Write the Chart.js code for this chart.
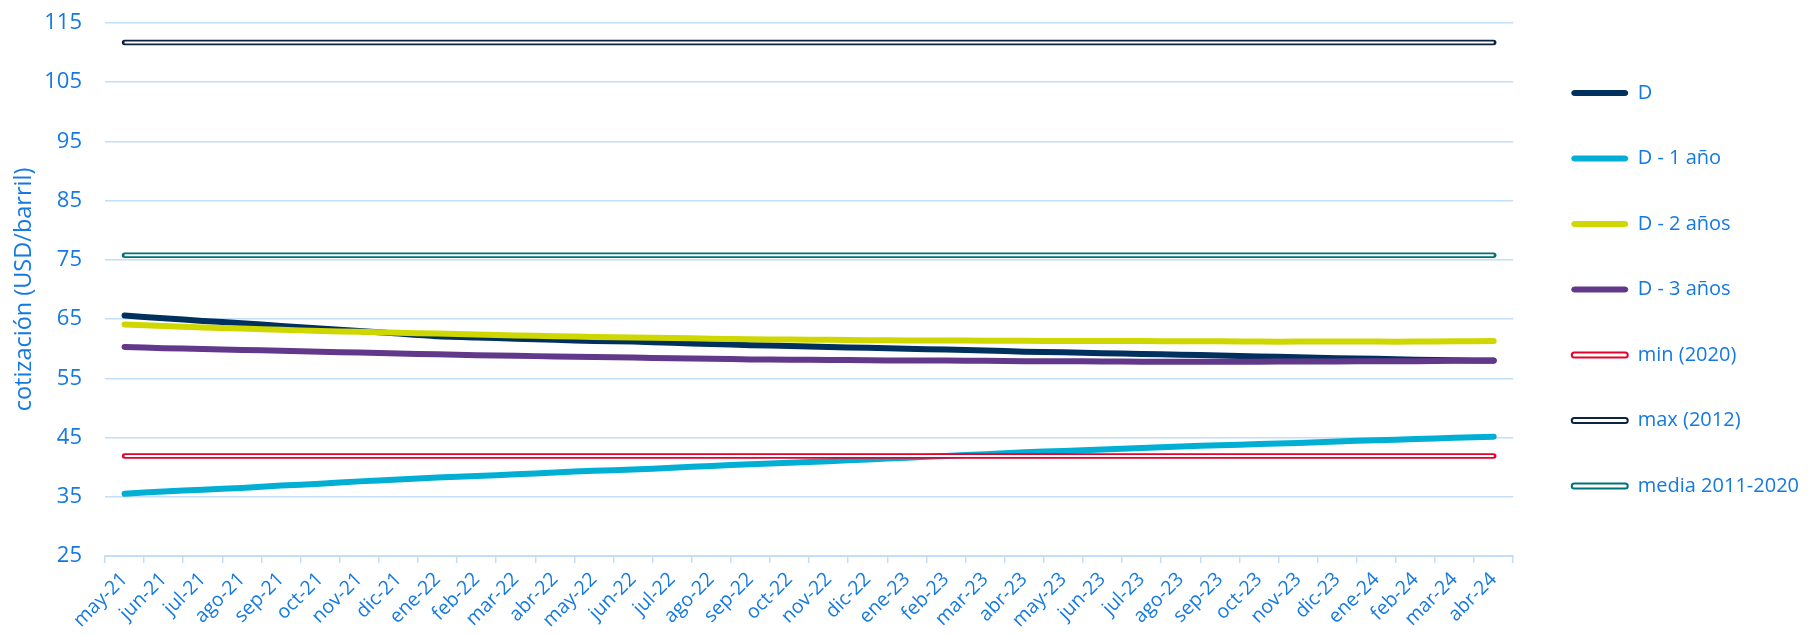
<!DOCTYPE html>
<html lang="es">
<head>
<meta charset="utf-8">
<title>Cotización del barril</title>
<script src="https://cdn.jsdelivr.net/npm/chart.js@4.4.1/dist/chart.umd.min.js"></script>
<style>
  html, body { margin: 0; padding: 0; background: #fff; }
  #contenedor { position: relative; width: 1809px; height: 636px; }
</style>
</head>
<body>
<div id="contenedor"><canvas id="grafico"></canvas></div>
<script>
// Datos
const meses = ['may-21','jun-21','jul-21','ago-21','sep-21','oct-21','nov-21','dic-21',
  'ene-22','feb-22','mar-22','abr-22','may-22','jun-22','jul-22','ago-22','sep-22','oct-22','nov-22','dic-22',
  'ene-23','feb-23','mar-23','abr-23','may-23','jun-23','jul-23','ago-23','sep-23','oct-23','nov-23','dic-23',
  'ene-24','feb-24','mar-24','abr-24'];

const serieD  = [65.6,65.15,64.7,64.3,63.85,63.4,63.0,62.55,62.1,61.9,61.7,61.5,61.3,61.2,61.0,60.8,60.6,60.45,
                 60.3,60.15,60.0,59.85,59.7,59.5,59.4,59.25,59.1,59.0,58.85,58.7,58.55,58.4,58.3,58.15,58.05,58.0];
const serieD1 = [35.5,35.9,36.2,36.5,36.9,37.2,37.6,37.9,38.25,38.5,38.8,39.1,39.4,39.6,39.9,40.2,40.5,40.75,
                 41.0,41.3,41.6,41.9,42.2,42.5,42.75,43.0,43.25,43.5,43.7,43.9,44.1,44.35,44.55,44.75,44.95,45.15];
const serieD2 = [64.1,63.85,63.6,63.4,63.2,63.0,62.85,62.7,62.55,62.4,62.25,62.1,62.0,61.9,61.8,61.7,61.6,61.55,
                 61.5,61.45,61.4,61.4,61.35,61.35,61.3,61.3,61.3,61.25,61.25,61.2,61.2,61.2,61.2,61.2,61.25,61.3];
const serieD3 = [60.3,60.1,59.95,59.8,59.65,59.5,59.35,59.2,59.05,58.9,58.8,58.7,58.6,58.5,58.4,58.3,58.2,58.15,
                 58.1,58.05,58.0,58.0,57.95,57.9,57.9,57.85,57.8,57.8,57.8,57.8,57.85,57.85,57.9,57.9,57.95,57.95];

// Referencias horizontales
const valorMin = 41.9;    // min (2020)
const valorMax = 111.7;   // max (2012)
const valorMedia = 75.8;  // media 2011-2020

const ticksY = [25, 35, 45, 55, 65, 75, 85, 95, 105, 115];

const azulTexto = '#1479E1';
const azulRejilla = '#C3DEF8';
const fuente = "'Open Sans', 'DejaVu Sans', sans-serif";

const series = [
  { nombre: 'D', datos: serieD, color: '#00305E' },
  { nombre: 'D - 1 año', datos: serieD1, color: '#00AFD3' },
  { nombre: 'D - 2 años', datos: serieD2, color: '#CFD700' },
  { nombre: 'D - 3 años', datos: serieD3, color: '#62388B' }
];
const referencias = [
  { nombre: 'min (2020)', valor: valorMin, color: '#E4032C' },
  { nombre: 'max (2012)', valor: valorMax, color: '#0D2340' },
  { nombre: 'media 2011-2020', valor: valorMedia, color: '#00707B' }
];

// Construir datasets: las líneas de referencia son dobles (línea de color + línea blanca encima)
const datasets = [];
let orden = 20;
series.forEach((s) => {
  datasets.push({
    label: s.nombre,
    data: s.datos,
    borderColor: s.color,
    backgroundColor: s.color,
    borderWidth: 6,
    borderCapStyle: 'round',
    borderJoinStyle: 'round',
    pointRadius: 0,
    tension: 0.2,
    order: orden--,
    enLeyenda: true
  });
});
referencias.forEach((r) => {
  const linea = meses.map(() => r.valor);
  datasets.push({
    label: r.nombre,
    data: linea,
    borderColor: r.color,
    backgroundColor: '#ffffff',
    borderWidth: 5.5,
    borderCapStyle: 'round',
    pointRadius: 0,
    order: orden--,
    enLeyenda: true,
    doble: true
  });
  datasets.push({
    label: r.nombre + ' (interior)',
    data: linea,
    borderColor: '#ffffff',
    borderWidth: 2,
    borderCapStyle: 'butt',
    pointRadius: 0,
    order: orden--,
    enLeyenda: false
  });
});

const ctx = document.getElementById('grafico').getContext('2d');
new Chart(ctx, {
  type: 'line',
  data: { labels: meses, datasets: datasets },
  options: {
    responsive: true,
    maintainAspectRatio: false,
    animation: false,
    layout: { padding: { top: 23, right: 0, bottom: 0, left: 0 } },
    plugins: {
      tooltip: { enabled: false },
      legend: {
        position: 'right',
        fullSize: false,
        align: 'center',
        labels: {
          color: azulTexto,
          font: { family: fuente, size: 20 },
          boxWidth: 56,
          boxHeight: 5,
          padding: 45.5,
          generateLabels: (chart) => {
            return chart.data.datasets
              .map((ds, i) => ({ ds, i }))
              .filter((d) => d.ds.enLeyenda)
              .map((d) => ({
                text: d.ds.label,
                fillStyle: d.ds.doble ? '#ffffff' : d.ds.borderColor,
                strokeStyle: d.ds.borderColor,
                lineWidth: d.ds.doble ? 2 : 1,
                borderRadius: 2.5,
                fontColor: azulTexto,
                hidden: false,
                datasetIndex: d.i
              }));
          }
        }
      }
    },
    scales: {
      x: {
        offset: true,
        grid: {
          display: true,
          drawOnChartArea: false,
          drawTicks: true,
          tickLength: 7,
          color: azulRejilla,
          lineWidth: 1.5,
          offset: true
        },
        border: { display: true, color: azulRejilla, width: 2 },
        ticks: {
          autoSkip: false,
          minRotation: 45,
          maxRotation: 45,
          color: azulTexto,
          font: { family: fuente, size: 19.5 },
          padding: 5
        },
        afterFit: (escala) => { escala.height = 80; }
      },
      y: {
        min: 25,
        max: 115,
        afterBuildTicks: (escala) => { escala.ticks = ticksY.map((v) => ({ value: v })); },
        // marcas invisibles para separar las etiquetas del área del gráfico
        grid: { color: azulRejilla, lineWidth: 1.5, drawTicks: true, tickLength: 23, tickColor: 'rgba(0,0,0,0)' },
        border: { display: false },
        ticks: {
          color: azulTexto,
          font: { family: fuente, size: 22 },
          padding: 0
        },
        title: {
          display: true,
          text: 'cotización (USD/barril)',
          color: azulTexto,
          font: { family: fuente, size: 23.5 },
          padding: { top: 10, bottom: 0 }
        },
        afterFit: (escala) => { escala.width = 105; }
      },
      // eje vacío para dejar hueco entre el área del gráfico y la leyenda
      hueco: {
        position: 'right',
        display: true,
        grid: { display: false },
        border: { display: false },
        ticks: { display: false },
        afterFit: (escala) => { escala.width = 13; }
      }
    }
  }
});
</script>
</body>
</html>
